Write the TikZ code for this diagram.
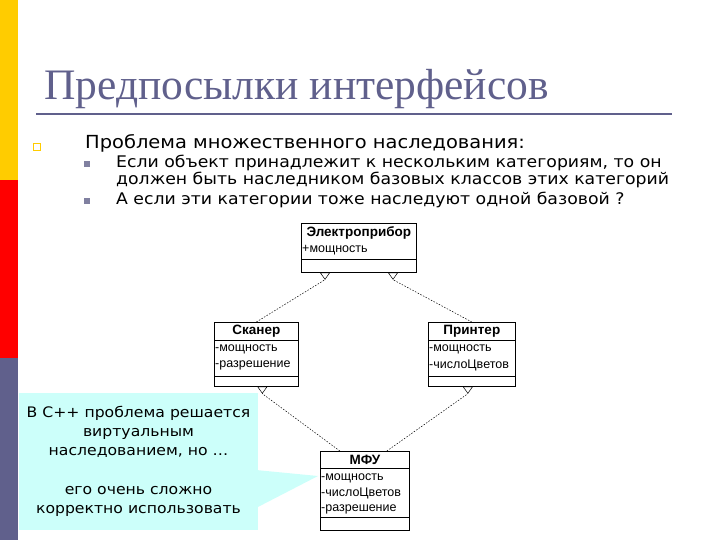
\documentclass[tikz,border=0pt]{standalone}
\usepackage{fontspec}
\setmainfont[FakeStretch=1.08]{DejaVu Sans}
\newfontfamily\titlefont{Liberation Serif}
\newfontfamily\umlfont{Liberation Sans}
\usetikzlibrary{arrows.meta, calc}
\definecolor{slate}{RGB}{96,96,140}
\definecolor{barYellow}{RGB}{255,204,0}
\definecolor{barRed}{RGB}{255,0,0}
\definecolor{noteFill}{RGB}{204,255,250}
\definecolor{subBullet}{RGB}{128,128,160}

\begin{document}
\begin{tikzpicture}[x=1pt,y=-1pt,
    umlbox/.style={draw,line width=0.7pt,inner sep=0pt,anchor=north west},
    umlname/.style={font=\umlfont\bfseries\fontsize{13.5}{15}\selectfont,inner sep=0pt},
    umlattr/.style={font=\umlfont\fontsize{12.5}{14}\selectfont,inner sep=0pt,anchor=west},
    inherit/.style={line width=0.5pt,dash pattern=on 1.5pt off 1.5pt,-{Triangle[open,reversed,length=7pt,width=10pt]}},
    item/.style={anchor=west,inner sep=0pt,font=\fontsize{18}{21}\selectfont},
    subitem/.style={anchor=west,inner sep=0pt,font=\fontsize{16}{18}\selectfont},
    note/.style={fill=noteFill,minimum width=239pt,minimum height=137pt,align=center,font=\fontsize{14.5}{19.3}\selectfont}]
\useasboundingbox (0,0) rectangle (720,540);

% side bar
\fill[barYellow] (0,0) rectangle (18,180);
\fill[barRed] (0,180) rectangle (18,358);
\fill[slate] (0,358) rectangle (18,540);

% title
\node[anchor=base west,inner sep=0pt,text=slate,font=\titlefont\fontsize{43.5}{48}\selectfont] (title) at (44,100) {Предпосылки интерфейсов};
\draw[slate,line width=2.5pt] (36,114) -- (672,114);

% bullets
\node[draw=barYellow,line width=1pt,minimum size=7pt,inner sep=0pt] (b0) at (37,147) {};
\node[item] (t0) at (85,143) {Проблема множественного наследования:};
\node[fill=subBullet,minimum size=6pt,inner sep=0pt] (b1) at (87,164) {};
\node[subitem] (t1) at (116,163) {Если объект принадлежит к нескольким категориям, то он};
\node[subitem] (t2) at (116,180) {должен быть наследником базовых классов этих категорий};
\node[fill=subBullet,minimum size=6pt,inner sep=0pt] (b2) at (87,201) {};
\node[subitem] (t3) at (116,200) {А если эти категории тоже наследуют одной базовой ?};

% classes
\node[umlbox,minimum width=115pt,minimum height=49pt] (elec) at (301,223) {};
\node[umlname] (elecname) at ($(elec.north)+(0,10)$) {Электроприбор};
\node[umlattr] at ($(elec.north west)+(1,27)$) {+мощность};
\draw[line width=0.7pt] ($(elec.north west)+(0,36)$) -- ($(elec.north east)+(0,36)$);

\node[umlbox,minimum width=84pt,minimum height=64pt] (scan) at (214,322) {};
\node[umlname] (scanname) at ($(scan.north)+(0,9)$) {Сканер};
\draw[line width=0.7pt] ($(scan.north west)+(0,18)$) -- ($(scan.north east)+(0,18)$);
\node[umlattr] at ($(scan.north west)+(1,27)$) {-мощность};
\node[umlattr] at ($(scan.north west)+(1,43)$) {-разрешение};
\draw[line width=0.7pt] ($(scan.north west)+(0,54)$) -- ($(scan.north east)+(0,54)$);

\node[umlbox,minimum width=87pt,minimum height=64pt] (prin) at (428,322) {};
\node[umlname] (prinname) at ($(prin.north)+(0,9)$) {Принтер};
\draw[line width=0.7pt] ($(prin.north west)+(0,18)$) -- ($(prin.north east)+(0,18)$);
\node[umlattr] at ($(prin.north west)+(1,27)$) {-мощность};
\node[umlattr] at ($(prin.north west)+(1,43)$) {-числоЦветов};
\draw[line width=0.7pt] ($(prin.north west)+(0,54)$) -- ($(prin.north east)+(0,54)$);

\node[umlbox,minimum width=89pt,minimum height=79pt] (mfu) at (320,451) {};
\node[umlname] (mfuname) at ($(mfu.north)+(0,9)$) {МФУ};
\draw[line width=0.7pt] ($(mfu.north west)+(0,17)$) -- ($(mfu.north east)+(0,17)$);
\node[umlattr] at ($(mfu.north west)+(1,27)$) {-мощность};
\node[umlattr] at ($(mfu.north west)+(1,42)$) {-числоЦветов};
\node[umlattr] at ($(mfu.north west)+(1,58)$) {-разрешение};
\draw[line width=0.7pt] ($(mfu.north west)+(0,66)$) -- ($(mfu.north east)+(0,66)$);

% inheritance
\draw[inherit] (scan.north) -- ($(elec.south west)+(24,7)$) -- ($(elec.south west)+(24,0)$);
\draw[inherit] (prin.north) -- ($(elec.south west)+(92,7)$) -- ($(elec.south west)+(92,0)$);
\draw[inherit] ($(mfu.north)+(-25,0)$) -- ($(scan.south)+(6,7)$) -- ($(scan.south)+(6,0)$);
\draw[inherit] ($(mfu.north)+(22,0)$) -- ($(prin.south)+(-4,7)$) -- ($(prin.south)+(-4,0)$);

% note
\coordinate (tip) at ($(mfu.north west)+(-2,25)$);
\fill[noteFill] ($(tip)+(-62,-6)$) -- (tip) -- ($(tip)+(-62,32)$) -- cycle;
\node[note] (note) at (138.5,461.5) {В С++ проблема решается\\виртуальным\\наследованием, но …\\[19.3pt]его очень сложно\\корректно использовать};
\end{tikzpicture}
\end{document}
